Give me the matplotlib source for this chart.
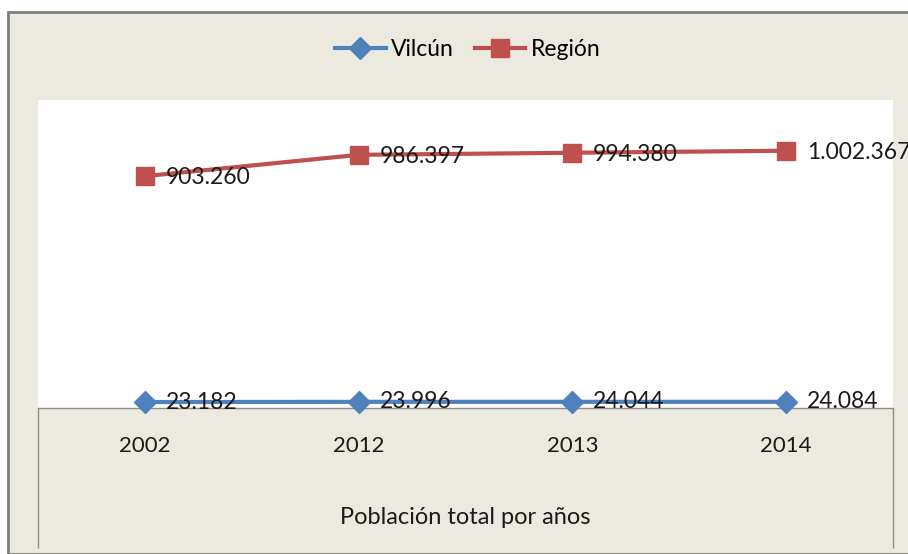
import numpy as np
import matplotlib as mpl
mpl.use('Agg')
import matplotlib.pyplot as plt
from matplotlib.patches import Rectangle

# data
years = ['2002', '2012', '2013', '2014']
vilcun = [23182, 23996, 24044, 24084]
region = [903260, 986397, 994380, 1002367]
vilcun_lbl = ['23.182', '23.996', '24.044', '24.084']
region_lbl = ['903.260', '986.397', '994.380', '1.002.367']

plt.rcParams['font.family'] = ['Lato', 'DejaVu Sans']

W, H = 908, 554
fig = plt.figure(figsize=(W / 100, H / 100), dpi=100, facecolor='white')

# beige chart area with grey border
bg = Rectangle((8 / W, 0), 1, 1 - 12 / H, transform=fig.transFigure,
               facecolor='#ECE9DF', edgecolor='#7F7F7F', linewidth=2, zorder=-10)
fig.patches.append(bg)

ax = fig.add_axes([38 / W, (H - 408) / H, (893 - 38) / W, (408 - 100) / H])
ax.set_zorder(1)
ax.set_facecolor('white')
x = np.arange(len(years))

blue = '#4F81BD'
red = '#C0504D'
ax.plot(x, vilcun, color=blue, lw=3, marker='D', ms=11, clip_on=False, zorder=3, label='Vilcún')
ax.plot(x, region, color=red, lw=3, marker='s', ms=13, clip_on=False, zorder=3, label='Región')

for xi, v, t in zip(x, vilcun, vilcun_lbl):
    ax.annotate(t, (xi, v), xytext=(15, 0), textcoords='offset points', va='center', ha='left',
                fontsize=16.5, color='#1a1a1a', annotation_clip=False, zorder=4)
for xi, v, t in zip(x, region, region_lbl):
    ax.annotate(t, (xi, v), xytext=(15, -1), textcoords='offset points', va='center', ha='left',
                fontsize=16.5, color='#1a1a1a', annotation_clip=False, zorder=4)

ax.set_xlim(-0.5, 3.5)
ax.set_ylim(0, 1200000)
ax.set_yticks([])
ax.set_xticks(x)
ax.set_xticklabels(years, fontsize=16, color='#1a1a1a')
ax.tick_params(axis='x', which='major', length=0, pad=20)
ax.set_xticks([-0.5, 3.5], minor=True)
ax.tick_params(axis='x', which='minor', length=101, color='#8C8C8C', width=1)
for s in ['top', 'left', 'right']:
    ax.spines[s].set_visible(False)
ax.spines['bottom'].set_color('#8C8C8C')
ax.spines['bottom'].set_linewidth(1)
ax.set_xlabel('Población total por años', fontsize=17, color='#1a1a1a', va='center')
ax.xaxis.set_label_coords(0.5, -(518 - 408) / 308)

fig.legend(loc='center', bbox_to_anchor=(468 / W, 1 - 50 / H), ncol=2, frameon=False,
           fontsize=16.5, handlelength=2.2, handletextpad=0.25, columnspacing=0.9)

fig.savefig('out.png', dpi=100, facecolor='white')
